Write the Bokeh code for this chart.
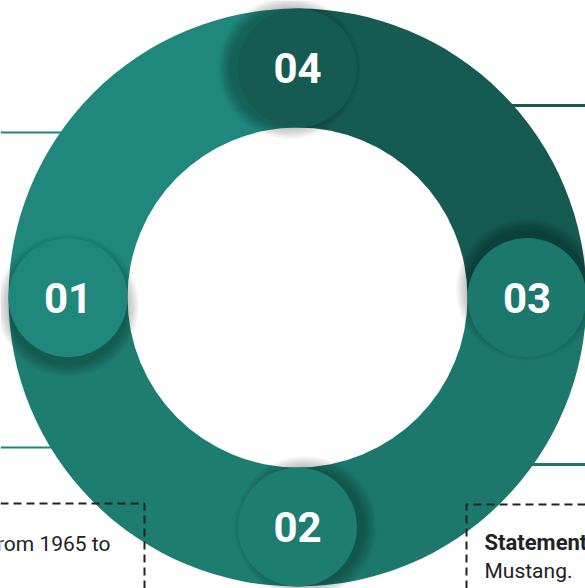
import numpy as np
from bokeh.plotting import figure
from bokeh.models import Range1d
from bokeh.core.properties import value
from bokeh.embed import file_html
from bokeh.resources import INLINE

# ---- data ----
labels = ["04", "01", "02", "03"]          # counter-clockwise from 3 o'clock
shares = [1, 1, 1, 1]                       # equal segments
colors = ["#165B52", "#1F877C", "#1E7D71", "#1C786C"]
left_text = "from 1965 to"
right_title = "Statement"
right_text = "Mustang."

# ---- geometry (reference pixel space, y measured downward) ----
W, H = 585, 588
cx, cy_ref = 297, 297
r_out, r_in = 289, 170
r_mid = (r_out + r_in) / 2
r_cap = (r_out - r_in) / 2


def Y(y):
    return H - y


cy = Y(cy_ref)
ends = np.cumsum(shares) / np.sum(shares) * 360.0
starts = ends - np.array(shares) / np.sum(shares) * 360.0

p = figure(width=W, height=H, x_range=Range1d(0, W), y_range=Range1d(0, H),
           output_backend="svg", toolbar_location=None, min_border=0)
p.axis.visible = False
p.grid.visible = False
p.outline_line_color = None
p.background_fill_color = "white"
p.border_fill_color = "white"

# connector lines (behind ring)
p.segment(x0=[0, 0], y0=[Y(132), Y(447)], x1=[80, 80], y1=[Y(132), Y(447)],
          line_color="#1F877C", line_width=2)
p.segment(x0=[470], y0=[Y(105)], x1=[W], y1=[Y(105)], line_color="#165B52", line_width=3)
p.segment(x0=[500], y0=[Y(464)], x1=[W], y1=[Y(464)], line_color="#1C786C", line_width=3)

# ring segments
p.annular_wedge(x=[cx] * 4, y=[cy] * 4, inner_radius=r_in, outer_radius=r_out,
                start_angle=list(np.deg2rad(starts)), end_angle=list(np.deg2rad(ends)),
                fill_color=colors, line_color=None)

# caps at segment ends with soft shadows on the side they overlap
th = np.deg2rad(ends)
capx = cx + r_mid * np.cos(th)
capy = cy + r_mid * np.sin(th)
dirx, diry = -np.sin(th), np.cos(th)
for k in range(10):
    off = 8.0
    p.circle(x=list(capx + dirx * off), y=list(capy + diry * off), radius=r_cap + 1.3 * k,
             fill_color="black", fill_alpha=0.027, line_color=None)
p.circle(x=list(capx), y=list(capy), radius=r_cap, fill_color=colors, line_color=None)

# labels
p.text(x=list(capx), y=list(capy), text=labels, text_color="white",
       text_font=value("Roboto"), text_font_style="bold", text_font_size="42px",
       text_align="center", text_baseline="middle")

# dashed boxes
dash = dict(line_color="#222222", line_width=2, line_dash="8 5")
p.line(x=[0, 144, 144], y=[Y(503), Y(503), 0], **dash)
p.line(x=[W, 466, 466], y=[Y(504), Y(504), 0], **dash)

# texts
p.text(x=[110], y=[Y(543)], text=[left_text], text_color="#222222",
       text_font=value("Roboto"), text_font_size="21px",
       text_align="right", text_baseline="alphabetic")
p.text(x=[484], y=[Y(542)], text=[right_title], text_color="#222222",
       text_font=value("Roboto"), text_font_style="bold", text_font_size="22px",
       text_align="left", text_baseline="alphabetic")
p.text(x=[484], y=[Y(570)], text=[right_text], text_color="#222222",
       text_font=value("Roboto"), text_font_size="21px",
       text_align="left", text_baseline="alphabetic")

open("out.html", "w").write(file_html(p, INLINE))
